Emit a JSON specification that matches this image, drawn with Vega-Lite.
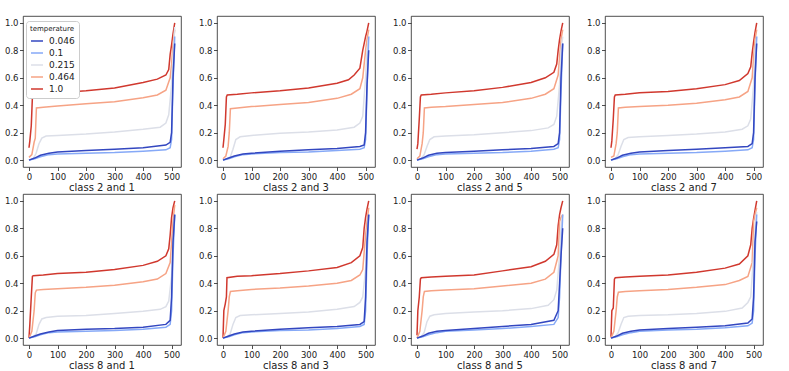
{
"$schema":"https://vega.github.io/schema/vega-lite/v6.json",
"padding":{"left":4,"top":15,"right":5,"bottom":2},
"background":"white",
"data":{"values":[
{"p":"class 2 and 1","t":"1.0","x":0,"y":0.09},{"p":"class 2 and 1","t":"1.0","x":3,"y":0.14},{"p":"class 2 and 1","t":"1.0","x":8,"y":0.25},{"p":"class 2 and 1","t":"1.0","x":12,"y":0.46},{"p":"class 2 and 1","t":"1.0","x":15,"y":0.475},{"p":"class 2 and 1","t":"1.0","x":50,"y":0.48},{"p":"class 2 and 1","t":"1.0","x":100,"y":0.49},{"p":"class 2 and 1","t":"1.0","x":200,"y":0.505},{"p":"class 2 and 1","t":"1.0","x":300,"y":0.525},{"p":"class 2 and 1","t":"1.0","x":400,"y":0.565},{"p":"class 2 and 1","t":"1.0","x":450,"y":0.59},{"p":"class 2 and 1","t":"1.0","x":480,"y":0.62},{"p":"class 2 and 1","t":"1.0","x":490,"y":0.66},{"p":"class 2 and 1","t":"1.0","x":495,"y":0.77},{"p":"class 2 and 1","t":"1.0","x":500,"y":0.84},{"p":"class 2 and 1","t":"1.0","x":505,"y":0.92},{"p":"class 2 and 1","t":"1.0","x":511,"y":1.0},
{"p":"class 2 and 1","t":"0.464","x":0,"y":0.02},{"p":"class 2 and 1","t":"0.464","x":10,"y":0.04},{"p":"class 2 and 1","t":"0.464","x":18,"y":0.13},{"p":"class 2 and 1","t":"0.464","x":22,"y":0.16},{"p":"class 2 and 1","t":"0.464","x":26,"y":0.38},{"p":"class 2 and 1","t":"0.464","x":50,"y":0.385},{"p":"class 2 and 1","t":"0.464","x":100,"y":0.395},{"p":"class 2 and 1","t":"0.464","x":200,"y":0.41},{"p":"class 2 and 1","t":"0.464","x":300,"y":0.425},{"p":"class 2 and 1","t":"0.464","x":400,"y":0.455},{"p":"class 2 and 1","t":"0.464","x":450,"y":0.475},{"p":"class 2 and 1","t":"0.464","x":480,"y":0.51},{"p":"class 2 and 1","t":"0.464","x":495,"y":0.6},{"p":"class 2 and 1","t":"0.464","x":500,"y":0.7},{"p":"class 2 and 1","t":"0.464","x":505,"y":0.85},{"p":"class 2 and 1","t":"0.464","x":511,"y":0.95},
{"p":"class 2 and 1","t":"0.215","x":0,"y":0},{"p":"class 2 and 1","t":"0.215","x":15,"y":0.01},{"p":"class 2 and 1","t":"0.215","x":25,"y":0.05},{"p":"class 2 and 1","t":"0.215","x":35,"y":0.12},{"p":"class 2 and 1","t":"0.215","x":45,"y":0.16},{"p":"class 2 and 1","t":"0.215","x":60,"y":0.175},{"p":"class 2 and 1","t":"0.215","x":100,"y":0.18},{"p":"class 2 and 1","t":"0.215","x":200,"y":0.19},{"p":"class 2 and 1","t":"0.215","x":300,"y":0.205},{"p":"class 2 and 1","t":"0.215","x":400,"y":0.225},{"p":"class 2 and 1","t":"0.215","x":460,"y":0.24},{"p":"class 2 and 1","t":"0.215","x":480,"y":0.27},{"p":"class 2 and 1","t":"0.215","x":490,"y":0.33},{"p":"class 2 and 1","t":"0.215","x":500,"y":0.55},{"p":"class 2 and 1","t":"0.215","x":505,"y":0.75},{"p":"class 2 and 1","t":"0.215","x":511,"y":0.97},
{"p":"class 2 and 1","t":"0.1","x":0,"y":0},{"p":"class 2 and 1","t":"0.1","x":20,"y":0.01},{"p":"class 2 and 1","t":"0.1","x":40,"y":0.025},{"p":"class 2 and 1","t":"0.1","x":70,"y":0.04},{"p":"class 2 and 1","t":"0.1","x":100,"y":0.045},{"p":"class 2 and 1","t":"0.1","x":200,"y":0.05},{"p":"class 2 and 1","t":"0.1","x":300,"y":0.055},{"p":"class 2 and 1","t":"0.1","x":400,"y":0.065},{"p":"class 2 and 1","t":"0.1","x":480,"y":0.075},{"p":"class 2 and 1","t":"0.1","x":495,"y":0.09},{"p":"class 2 and 1","t":"0.1","x":500,"y":0.15},{"p":"class 2 and 1","t":"0.1","x":505,"y":0.55},{"p":"class 2 and 1","t":"0.1","x":511,"y":0.9},
{"p":"class 2 and 1","t":"0.046","x":0,"y":0},{"p":"class 2 and 1","t":"0.046","x":20,"y":0.015},{"p":"class 2 and 1","t":"0.046","x":40,"y":0.035},{"p":"class 2 and 1","t":"0.046","x":70,"y":0.05},{"p":"class 2 and 1","t":"0.046","x":100,"y":0.06},{"p":"class 2 and 1","t":"0.046","x":200,"y":0.07},{"p":"class 2 and 1","t":"0.046","x":300,"y":0.08},{"p":"class 2 and 1","t":"0.046","x":400,"y":0.09},{"p":"class 2 and 1","t":"0.046","x":480,"y":0.11},{"p":"class 2 and 1","t":"0.046","x":495,"y":0.13},{"p":"class 2 and 1","t":"0.046","x":500,"y":0.2},{"p":"class 2 and 1","t":"0.046","x":505,"y":0.6},{"p":"class 2 and 1","t":"0.046","x":511,"y":0.85},

{"p":"class 2 and 3","t":"1.0","x":0,"y":0.09},{"p":"class 2 and 3","t":"1.0","x":3,"y":0.15},{"p":"class 2 and 3","t":"1.0","x":8,"y":0.26},{"p":"class 2 and 3","t":"1.0","x":12,"y":0.46},{"p":"class 2 and 3","t":"1.0","x":15,"y":0.475},{"p":"class 2 and 3","t":"1.0","x":50,"y":0.48},{"p":"class 2 and 3","t":"1.0","x":100,"y":0.49},{"p":"class 2 and 3","t":"1.0","x":200,"y":0.505},{"p":"class 2 and 3","t":"1.0","x":300,"y":0.525},{"p":"class 2 and 3","t":"1.0","x":400,"y":0.56},{"p":"class 2 and 3","t":"1.0","x":440,"y":0.585},{"p":"class 2 and 3","t":"1.0","x":460,"y":0.62},{"p":"class 2 and 3","t":"1.0","x":480,"y":0.67},{"p":"class 2 and 3","t":"1.0","x":490,"y":0.8},{"p":"class 2 and 3","t":"1.0","x":500,"y":0.9},{"p":"class 2 and 3","t":"1.0","x":505,"y":0.94},{"p":"class 2 and 3","t":"1.0","x":511,"y":1.0},
{"p":"class 2 and 3","t":"0.464","x":0,"y":0.01},{"p":"class 2 and 3","t":"0.464","x":10,"y":0.03},{"p":"class 2 and 3","t":"0.464","x":18,"y":0.1},{"p":"class 2 and 3","t":"0.464","x":22,"y":0.2},{"p":"class 2 and 3","t":"0.464","x":26,"y":0.375},{"p":"class 2 and 3","t":"0.464","x":50,"y":0.38},{"p":"class 2 and 3","t":"0.464","x":100,"y":0.39},{"p":"class 2 and 3","t":"0.464","x":200,"y":0.405},{"p":"class 2 and 3","t":"0.464","x":300,"y":0.42},{"p":"class 2 and 3","t":"0.464","x":400,"y":0.45},{"p":"class 2 and 3","t":"0.464","x":450,"y":0.48},{"p":"class 2 and 3","t":"0.464","x":480,"y":0.52},{"p":"class 2 and 3","t":"0.464","x":490,"y":0.6},{"p":"class 2 and 3","t":"0.464","x":500,"y":0.8},{"p":"class 2 and 3","t":"0.464","x":505,"y":0.88},{"p":"class 2 and 3","t":"0.464","x":511,"y":0.95},
{"p":"class 2 and 3","t":"0.215","x":0,"y":0},{"p":"class 2 and 3","t":"0.215","x":15,"y":0.01},{"p":"class 2 and 3","t":"0.215","x":25,"y":0.02},{"p":"class 2 and 3","t":"0.215","x":35,"y":0.08},{"p":"class 2 and 3","t":"0.215","x":45,"y":0.15},{"p":"class 2 and 3","t":"0.215","x":60,"y":0.17},{"p":"class 2 and 3","t":"0.215","x":100,"y":0.18},{"p":"class 2 and 3","t":"0.215","x":200,"y":0.195},{"p":"class 2 and 3","t":"0.215","x":300,"y":0.205},{"p":"class 2 and 3","t":"0.215","x":400,"y":0.22},{"p":"class 2 and 3","t":"0.215","x":460,"y":0.24},{"p":"class 2 and 3","t":"0.215","x":480,"y":0.27},{"p":"class 2 and 3","t":"0.215","x":490,"y":0.32},{"p":"class 2 and 3","t":"0.215","x":500,"y":0.6},{"p":"class 2 and 3","t":"0.215","x":505,"y":0.8},{"p":"class 2 and 3","t":"0.215","x":511,"y":0.9},
{"p":"class 2 and 3","t":"0.1","x":0,"y":0},{"p":"class 2 and 3","t":"0.1","x":20,"y":0.01},{"p":"class 2 and 3","t":"0.1","x":40,"y":0.025},{"p":"class 2 and 3","t":"0.1","x":70,"y":0.04},{"p":"class 2 and 3","t":"0.1","x":100,"y":0.045},{"p":"class 2 and 3","t":"0.1","x":200,"y":0.055},{"p":"class 2 and 3","t":"0.1","x":300,"y":0.06},{"p":"class 2 and 3","t":"0.1","x":400,"y":0.07},{"p":"class 2 and 3","t":"0.1","x":480,"y":0.08},{"p":"class 2 and 3","t":"0.1","x":495,"y":0.09},{"p":"class 2 and 3","t":"0.1","x":500,"y":0.15},{"p":"class 2 and 3","t":"0.1","x":505,"y":0.5},{"p":"class 2 and 3","t":"0.1","x":511,"y":0.9},
{"p":"class 2 and 3","t":"0.046","x":0,"y":0},{"p":"class 2 and 3","t":"0.046","x":20,"y":0.015},{"p":"class 2 and 3","t":"0.046","x":40,"y":0.03},{"p":"class 2 and 3","t":"0.046","x":70,"y":0.045},{"p":"class 2 and 3","t":"0.046","x":100,"y":0.05},{"p":"class 2 and 3","t":"0.046","x":200,"y":0.065},{"p":"class 2 and 3","t":"0.046","x":300,"y":0.075},{"p":"class 2 and 3","t":"0.046","x":400,"y":0.085},{"p":"class 2 and 3","t":"0.046","x":480,"y":0.1},{"p":"class 2 and 3","t":"0.046","x":495,"y":0.11},{"p":"class 2 and 3","t":"0.046","x":500,"y":0.2},{"p":"class 2 and 3","t":"0.046","x":505,"y":0.55},{"p":"class 2 and 3","t":"0.046","x":511,"y":0.8},

{"p":"class 2 and 5","t":"1.0","x":0,"y":0.08},{"p":"class 2 and 5","t":"1.0","x":3,"y":0.12},{"p":"class 2 and 5","t":"1.0","x":8,"y":0.3},{"p":"class 2 and 5","t":"1.0","x":12,"y":0.46},{"p":"class 2 and 5","t":"1.0","x":15,"y":0.475},{"p":"class 2 and 5","t":"1.0","x":50,"y":0.48},{"p":"class 2 and 5","t":"1.0","x":100,"y":0.49},{"p":"class 2 and 5","t":"1.0","x":200,"y":0.505},{"p":"class 2 and 5","t":"1.0","x":300,"y":0.53},{"p":"class 2 and 5","t":"1.0","x":400,"y":0.565},{"p":"class 2 and 5","t":"1.0","x":450,"y":0.6},{"p":"class 2 and 5","t":"1.0","x":480,"y":0.64},{"p":"class 2 and 5","t":"1.0","x":490,"y":0.7},{"p":"class 2 and 5","t":"1.0","x":495,"y":0.8},{"p":"class 2 and 5","t":"1.0","x":500,"y":0.88},{"p":"class 2 and 5","t":"1.0","x":505,"y":0.94},{"p":"class 2 and 5","t":"1.0","x":511,"y":1.0},
{"p":"class 2 and 5","t":"0.464","x":0,"y":0.01},{"p":"class 2 and 5","t":"0.464","x":10,"y":0.03},{"p":"class 2 and 5","t":"0.464","x":18,"y":0.12},{"p":"class 2 and 5","t":"0.464","x":22,"y":0.2},{"p":"class 2 and 5","t":"0.464","x":26,"y":0.38},{"p":"class 2 and 5","t":"0.464","x":50,"y":0.385},{"p":"class 2 and 5","t":"0.464","x":100,"y":0.39},{"p":"class 2 and 5","t":"0.464","x":200,"y":0.405},{"p":"class 2 and 5","t":"0.464","x":300,"y":0.42},{"p":"class 2 and 5","t":"0.464","x":400,"y":0.45},{"p":"class 2 and 5","t":"0.464","x":450,"y":0.48},{"p":"class 2 and 5","t":"0.464","x":480,"y":0.52},{"p":"class 2 and 5","t":"0.464","x":495,"y":0.62},{"p":"class 2 and 5","t":"0.464","x":500,"y":0.75},{"p":"class 2 and 5","t":"0.464","x":505,"y":0.88},{"p":"class 2 and 5","t":"0.464","x":511,"y":0.95},
{"p":"class 2 and 5","t":"0.215","x":0,"y":0},{"p":"class 2 and 5","t":"0.215","x":15,"y":0.01},{"p":"class 2 and 5","t":"0.215","x":25,"y":0.04},{"p":"class 2 and 5","t":"0.215","x":35,"y":0.1},{"p":"class 2 and 5","t":"0.215","x":45,"y":0.15},{"p":"class 2 and 5","t":"0.215","x":60,"y":0.17},{"p":"class 2 and 5","t":"0.215","x":100,"y":0.175},{"p":"class 2 and 5","t":"0.215","x":200,"y":0.185},{"p":"class 2 and 5","t":"0.215","x":300,"y":0.2},{"p":"class 2 and 5","t":"0.215","x":400,"y":0.215},{"p":"class 2 and 5","t":"0.215","x":460,"y":0.235},{"p":"class 2 and 5","t":"0.215","x":480,"y":0.26},{"p":"class 2 and 5","t":"0.215","x":490,"y":0.32},{"p":"class 2 and 5","t":"0.215","x":500,"y":0.55},{"p":"class 2 and 5","t":"0.215","x":505,"y":0.8},{"p":"class 2 and 5","t":"0.215","x":511,"y":0.9},
{"p":"class 2 and 5","t":"0.1","x":0,"y":0},{"p":"class 2 and 5","t":"0.1","x":20,"y":0.01},{"p":"class 2 and 5","t":"0.1","x":40,"y":0.025},{"p":"class 2 and 5","t":"0.1","x":70,"y":0.04},{"p":"class 2 and 5","t":"0.1","x":100,"y":0.045},{"p":"class 2 and 5","t":"0.1","x":200,"y":0.05},{"p":"class 2 and 5","t":"0.1","x":300,"y":0.055},{"p":"class 2 and 5","t":"0.1","x":400,"y":0.065},{"p":"class 2 and 5","t":"0.1","x":480,"y":0.08},{"p":"class 2 and 5","t":"0.1","x":495,"y":0.09},{"p":"class 2 and 5","t":"0.1","x":500,"y":0.15},{"p":"class 2 and 5","t":"0.1","x":505,"y":0.5},{"p":"class 2 and 5","t":"0.1","x":511,"y":0.85},
{"p":"class 2 and 5","t":"0.046","x":0,"y":0},{"p":"class 2 and 5","t":"0.046","x":20,"y":0.015},{"p":"class 2 and 5","t":"0.046","x":40,"y":0.035},{"p":"class 2 and 5","t":"0.046","x":70,"y":0.05},{"p":"class 2 and 5","t":"0.046","x":100,"y":0.055},{"p":"class 2 and 5","t":"0.046","x":200,"y":0.065},{"p":"class 2 and 5","t":"0.046","x":300,"y":0.075},{"p":"class 2 and 5","t":"0.046","x":400,"y":0.085},{"p":"class 2 and 5","t":"0.046","x":480,"y":0.1},{"p":"class 2 and 5","t":"0.046","x":495,"y":0.12},{"p":"class 2 and 5","t":"0.046","x":500,"y":0.2},{"p":"class 2 and 5","t":"0.046","x":505,"y":0.6},{"p":"class 2 and 5","t":"0.046","x":511,"y":0.85},

{"p":"class 2 and 7","t":"1.0","x":0,"y":0.09},{"p":"class 2 and 7","t":"1.0","x":3,"y":0.14},{"p":"class 2 and 7","t":"1.0","x":8,"y":0.3},{"p":"class 2 and 7","t":"1.0","x":12,"y":0.46},{"p":"class 2 and 7","t":"1.0","x":15,"y":0.475},{"p":"class 2 and 7","t":"1.0","x":50,"y":0.48},{"p":"class 2 and 7","t":"1.0","x":100,"y":0.49},{"p":"class 2 and 7","t":"1.0","x":200,"y":0.5},{"p":"class 2 and 7","t":"1.0","x":300,"y":0.52},{"p":"class 2 and 7","t":"1.0","x":400,"y":0.55},{"p":"class 2 and 7","t":"1.0","x":450,"y":0.58},{"p":"class 2 and 7","t":"1.0","x":480,"y":0.63},{"p":"class 2 and 7","t":"1.0","x":490,"y":0.68},{"p":"class 2 and 7","t":"1.0","x":495,"y":0.78},{"p":"class 2 and 7","t":"1.0","x":500,"y":0.86},{"p":"class 2 and 7","t":"1.0","x":505,"y":0.93},{"p":"class 2 and 7","t":"1.0","x":511,"y":1.0},
{"p":"class 2 and 7","t":"0.464","x":0,"y":0.02},{"p":"class 2 and 7","t":"0.464","x":10,"y":0.03},{"p":"class 2 and 7","t":"0.464","x":18,"y":0.12},{"p":"class 2 and 7","t":"0.464","x":22,"y":0.2},{"p":"class 2 and 7","t":"0.464","x":26,"y":0.38},{"p":"class 2 and 7","t":"0.464","x":50,"y":0.385},{"p":"class 2 and 7","t":"0.464","x":100,"y":0.39},{"p":"class 2 and 7","t":"0.464","x":200,"y":0.4},{"p":"class 2 and 7","t":"0.464","x":300,"y":0.415},{"p":"class 2 and 7","t":"0.464","x":400,"y":0.44},{"p":"class 2 and 7","t":"0.464","x":450,"y":0.46},{"p":"class 2 and 7","t":"0.464","x":480,"y":0.5},{"p":"class 2 and 7","t":"0.464","x":495,"y":0.6},{"p":"class 2 and 7","t":"0.464","x":500,"y":0.75},{"p":"class 2 and 7","t":"0.464","x":505,"y":0.88},{"p":"class 2 and 7","t":"0.464","x":511,"y":0.95},
{"p":"class 2 and 7","t":"0.215","x":0,"y":0},{"p":"class 2 and 7","t":"0.215","x":15,"y":0.01},{"p":"class 2 and 7","t":"0.215","x":25,"y":0.04},{"p":"class 2 and 7","t":"0.215","x":35,"y":0.1},{"p":"class 2 and 7","t":"0.215","x":45,"y":0.15},{"p":"class 2 and 7","t":"0.215","x":60,"y":0.165},{"p":"class 2 and 7","t":"0.215","x":100,"y":0.17},{"p":"class 2 and 7","t":"0.215","x":200,"y":0.18},{"p":"class 2 and 7","t":"0.215","x":300,"y":0.19},{"p":"class 2 and 7","t":"0.215","x":400,"y":0.205},{"p":"class 2 and 7","t":"0.215","x":460,"y":0.225},{"p":"class 2 and 7","t":"0.215","x":480,"y":0.25},{"p":"class 2 and 7","t":"0.215","x":490,"y":0.3},{"p":"class 2 and 7","t":"0.215","x":500,"y":0.55},{"p":"class 2 and 7","t":"0.215","x":505,"y":0.8},{"p":"class 2 and 7","t":"0.215","x":511,"y":0.9},
{"p":"class 2 and 7","t":"0.1","x":0,"y":0},{"p":"class 2 and 7","t":"0.1","x":20,"y":0.01},{"p":"class 2 and 7","t":"0.1","x":40,"y":0.025},{"p":"class 2 and 7","t":"0.1","x":70,"y":0.04},{"p":"class 2 and 7","t":"0.1","x":100,"y":0.045},{"p":"class 2 and 7","t":"0.1","x":200,"y":0.05},{"p":"class 2 and 7","t":"0.1","x":300,"y":0.055},{"p":"class 2 and 7","t":"0.1","x":400,"y":0.065},{"p":"class 2 and 7","t":"0.1","x":480,"y":0.075},{"p":"class 2 and 7","t":"0.1","x":495,"y":0.09},{"p":"class 2 and 7","t":"0.1","x":500,"y":0.15},{"p":"class 2 and 7","t":"0.1","x":505,"y":0.55},{"p":"class 2 and 7","t":"0.1","x":511,"y":0.9},
{"p":"class 2 and 7","t":"0.046","x":0,"y":0},{"p":"class 2 and 7","t":"0.046","x":20,"y":0.015},{"p":"class 2 and 7","t":"0.046","x":40,"y":0.035},{"p":"class 2 and 7","t":"0.046","x":70,"y":0.05},{"p":"class 2 and 7","t":"0.046","x":100,"y":0.06},{"p":"class 2 and 7","t":"0.046","x":200,"y":0.07},{"p":"class 2 and 7","t":"0.046","x":300,"y":0.08},{"p":"class 2 and 7","t":"0.046","x":400,"y":0.09},{"p":"class 2 and 7","t":"0.046","x":480,"y":0.1},{"p":"class 2 and 7","t":"0.046","x":495,"y":0.12},{"p":"class 2 and 7","t":"0.046","x":500,"y":0.2},{"p":"class 2 and 7","t":"0.046","x":505,"y":0.6},{"p":"class 2 and 7","t":"0.046","x":511,"y":0.85},

{"p":"class 8 and 1","t":"1.0","x":0,"y":0},{"p":"class 8 and 1","t":"1.0","x":3,"y":0.1},{"p":"class 8 and 1","t":"1.0","x":8,"y":0.3},{"p":"class 8 and 1","t":"1.0","x":12,"y":0.45},{"p":"class 8 and 1","t":"1.0","x":15,"y":0.455},{"p":"class 8 and 1","t":"1.0","x":50,"y":0.46},{"p":"class 8 and 1","t":"1.0","x":100,"y":0.47},{"p":"class 8 and 1","t":"1.0","x":200,"y":0.48},{"p":"class 8 and 1","t":"1.0","x":300,"y":0.5},{"p":"class 8 and 1","t":"1.0","x":400,"y":0.53},{"p":"class 8 and 1","t":"1.0","x":450,"y":0.56},{"p":"class 8 and 1","t":"1.0","x":480,"y":0.6},{"p":"class 8 and 1","t":"1.0","x":490,"y":0.65},{"p":"class 8 and 1","t":"1.0","x":495,"y":0.75},{"p":"class 8 and 1","t":"1.0","x":500,"y":0.88},{"p":"class 8 and 1","t":"1.0","x":505,"y":0.95},{"p":"class 8 and 1","t":"1.0","x":511,"y":1.0},
{"p":"class 8 and 1","t":"0.464","x":0,"y":0},{"p":"class 8 and 1","t":"0.464","x":10,"y":0.05},{"p":"class 8 and 1","t":"0.464","x":18,"y":0.2},{"p":"class 8 and 1","t":"0.464","x":22,"y":0.33},{"p":"class 8 and 1","t":"0.464","x":26,"y":0.35},{"p":"class 8 and 1","t":"0.464","x":50,"y":0.355},{"p":"class 8 and 1","t":"0.464","x":100,"y":0.36},{"p":"class 8 and 1","t":"0.464","x":200,"y":0.37},{"p":"class 8 and 1","t":"0.464","x":300,"y":0.385},{"p":"class 8 and 1","t":"0.464","x":400,"y":0.41},{"p":"class 8 and 1","t":"0.464","x":450,"y":0.43},{"p":"class 8 and 1","t":"0.464","x":480,"y":0.47},{"p":"class 8 and 1","t":"0.464","x":495,"y":0.55},{"p":"class 8 and 1","t":"0.464","x":500,"y":0.7},{"p":"class 8 and 1","t":"0.464","x":505,"y":0.85},{"p":"class 8 and 1","t":"0.464","x":511,"y":0.97},
{"p":"class 8 and 1","t":"0.215","x":0,"y":0},{"p":"class 8 and 1","t":"0.215","x":15,"y":0.01},{"p":"class 8 and 1","t":"0.215","x":25,"y":0.03},{"p":"class 8 and 1","t":"0.215","x":35,"y":0.1},{"p":"class 8 and 1","t":"0.215","x":45,"y":0.14},{"p":"class 8 and 1","t":"0.215","x":60,"y":0.15},{"p":"class 8 and 1","t":"0.215","x":100,"y":0.16},{"p":"class 8 and 1","t":"0.215","x":200,"y":0.165},{"p":"class 8 and 1","t":"0.215","x":300,"y":0.18},{"p":"class 8 and 1","t":"0.215","x":400,"y":0.195},{"p":"class 8 and 1","t":"0.215","x":460,"y":0.21},{"p":"class 8 and 1","t":"0.215","x":480,"y":0.23},{"p":"class 8 and 1","t":"0.215","x":490,"y":0.27},{"p":"class 8 and 1","t":"0.215","x":500,"y":0.45},{"p":"class 8 and 1","t":"0.215","x":505,"y":0.7},{"p":"class 8 and 1","t":"0.215","x":511,"y":0.9},
{"p":"class 8 and 1","t":"0.1","x":0,"y":0},{"p":"class 8 and 1","t":"0.1","x":20,"y":0.01},{"p":"class 8 and 1","t":"0.1","x":40,"y":0.025},{"p":"class 8 and 1","t":"0.1","x":70,"y":0.04},{"p":"class 8 and 1","t":"0.1","x":100,"y":0.045},{"p":"class 8 and 1","t":"0.1","x":200,"y":0.05},{"p":"class 8 and 1","t":"0.1","x":300,"y":0.055},{"p":"class 8 and 1","t":"0.1","x":400,"y":0.065},{"p":"class 8 and 1","t":"0.1","x":480,"y":0.08},{"p":"class 8 and 1","t":"0.1","x":495,"y":0.1},{"p":"class 8 and 1","t":"0.1","x":500,"y":0.2},{"p":"class 8 and 1","t":"0.1","x":505,"y":0.6},{"p":"class 8 and 1","t":"0.1","x":511,"y":0.9},
{"p":"class 8 and 1","t":"0.046","x":0,"y":0},{"p":"class 8 and 1","t":"0.046","x":20,"y":0.015},{"p":"class 8 and 1","t":"0.046","x":40,"y":0.03},{"p":"class 8 and 1","t":"0.046","x":70,"y":0.045},{"p":"class 8 and 1","t":"0.046","x":100,"y":0.055},{"p":"class 8 and 1","t":"0.046","x":200,"y":0.065},{"p":"class 8 and 1","t":"0.046","x":300,"y":0.07},{"p":"class 8 and 1","t":"0.046","x":400,"y":0.08},{"p":"class 8 and 1","t":"0.046","x":480,"y":0.1},{"p":"class 8 and 1","t":"0.046","x":495,"y":0.13},{"p":"class 8 and 1","t":"0.046","x":500,"y":0.3},{"p":"class 8 and 1","t":"0.046","x":505,"y":0.7},{"p":"class 8 and 1","t":"0.046","x":511,"y":0.9},

{"p":"class 8 and 3","t":"1.0","x":0,"y":0},{"p":"class 8 and 3","t":"1.0","x":3,"y":0.2},{"p":"class 8 and 3","t":"1.0","x":8,"y":0.25},{"p":"class 8 and 3","t":"1.0","x":12,"y":0.3},{"p":"class 8 and 3","t":"1.0","x":14,"y":0.44},{"p":"class 8 and 3","t":"1.0","x":50,"y":0.45},{"p":"class 8 and 3","t":"1.0","x":100,"y":0.455},{"p":"class 8 and 3","t":"1.0","x":200,"y":0.47},{"p":"class 8 and 3","t":"1.0","x":300,"y":0.49},{"p":"class 8 and 3","t":"1.0","x":400,"y":0.515},{"p":"class 8 and 3","t":"1.0","x":450,"y":0.55},{"p":"class 8 and 3","t":"1.0","x":480,"y":0.6},{"p":"class 8 and 3","t":"1.0","x":490,"y":0.66},{"p":"class 8 and 3","t":"1.0","x":495,"y":0.8},{"p":"class 8 and 3","t":"1.0","x":500,"y":0.88},{"p":"class 8 and 3","t":"1.0","x":505,"y":0.94},{"p":"class 8 and 3","t":"1.0","x":511,"y":1.0},
{"p":"class 8 and 3","t":"0.464","x":0,"y":0},{"p":"class 8 and 3","t":"0.464","x":10,"y":0.05},{"p":"class 8 and 3","t":"0.464","x":18,"y":0.2},{"p":"class 8 and 3","t":"0.464","x":22,"y":0.3},{"p":"class 8 and 3","t":"0.464","x":26,"y":0.34},{"p":"class 8 and 3","t":"0.464","x":50,"y":0.345},{"p":"class 8 and 3","t":"0.464","x":100,"y":0.355},{"p":"class 8 and 3","t":"0.464","x":200,"y":0.365},{"p":"class 8 and 3","t":"0.464","x":300,"y":0.38},{"p":"class 8 and 3","t":"0.464","x":400,"y":0.4},{"p":"class 8 and 3","t":"0.464","x":450,"y":0.42},{"p":"class 8 and 3","t":"0.464","x":480,"y":0.46},{"p":"class 8 and 3","t":"0.464","x":490,"y":0.5},{"p":"class 8 and 3","t":"0.464","x":500,"y":0.75},{"p":"class 8 and 3","t":"0.464","x":505,"y":0.85},{"p":"class 8 and 3","t":"0.464","x":511,"y":0.95},
{"p":"class 8 and 3","t":"0.215","x":0,"y":0},{"p":"class 8 and 3","t":"0.215","x":15,"y":0.01},{"p":"class 8 and 3","t":"0.215","x":25,"y":0.03},{"p":"class 8 and 3","t":"0.215","x":35,"y":0.1},{"p":"class 8 and 3","t":"0.215","x":45,"y":0.15},{"p":"class 8 and 3","t":"0.215","x":60,"y":0.165},{"p":"class 8 and 3","t":"0.215","x":100,"y":0.17},{"p":"class 8 and 3","t":"0.215","x":200,"y":0.18},{"p":"class 8 and 3","t":"0.215","x":300,"y":0.19},{"p":"class 8 and 3","t":"0.215","x":400,"y":0.21},{"p":"class 8 and 3","t":"0.215","x":460,"y":0.23},{"p":"class 8 and 3","t":"0.215","x":480,"y":0.26},{"p":"class 8 and 3","t":"0.215","x":490,"y":0.3},{"p":"class 8 and 3","t":"0.215","x":500,"y":0.5},{"p":"class 8 and 3","t":"0.215","x":505,"y":0.75},{"p":"class 8 and 3","t":"0.215","x":511,"y":0.9},
{"p":"class 8 and 3","t":"0.1","x":0,"y":0},{"p":"class 8 and 3","t":"0.1","x":20,"y":0.01},{"p":"class 8 and 3","t":"0.1","x":40,"y":0.025},{"p":"class 8 and 3","t":"0.1","x":70,"y":0.04},{"p":"class 8 and 3","t":"0.1","x":100,"y":0.045},{"p":"class 8 and 3","t":"0.1","x":200,"y":0.055},{"p":"class 8 and 3","t":"0.1","x":300,"y":0.06},{"p":"class 8 and 3","t":"0.1","x":400,"y":0.07},{"p":"class 8 and 3","t":"0.1","x":480,"y":0.085},{"p":"class 8 and 3","t":"0.1","x":495,"y":0.1},{"p":"class 8 and 3","t":"0.1","x":500,"y":0.2},{"p":"class 8 and 3","t":"0.1","x":505,"y":0.6},{"p":"class 8 and 3","t":"0.1","x":511,"y":0.9},
{"p":"class 8 and 3","t":"0.046","x":0,"y":0},{"p":"class 8 and 3","t":"0.046","x":20,"y":0.015},{"p":"class 8 and 3","t":"0.046","x":40,"y":0.03},{"p":"class 8 and 3","t":"0.046","x":70,"y":0.045},{"p":"class 8 and 3","t":"0.046","x":100,"y":0.05},{"p":"class 8 and 3","t":"0.046","x":200,"y":0.065},{"p":"class 8 and 3","t":"0.046","x":300,"y":0.075},{"p":"class 8 and 3","t":"0.046","x":400,"y":0.085},{"p":"class 8 and 3","t":"0.046","x":480,"y":0.1},{"p":"class 8 and 3","t":"0.046","x":495,"y":0.12},{"p":"class 8 and 3","t":"0.046","x":500,"y":0.3},{"p":"class 8 and 3","t":"0.046","x":505,"y":0.7},{"p":"class 8 and 3","t":"0.046","x":511,"y":0.9},

{"p":"class 8 and 5","t":"1.0","x":0,"y":0.02},{"p":"class 8 and 5","t":"1.0","x":3,"y":0.2},{"p":"class 8 and 5","t":"1.0","x":8,"y":0.3},{"p":"class 8 and 5","t":"1.0","x":12,"y":0.43},{"p":"class 8 and 5","t":"1.0","x":15,"y":0.44},{"p":"class 8 and 5","t":"1.0","x":50,"y":0.445},{"p":"class 8 and 5","t":"1.0","x":100,"y":0.45},{"p":"class 8 and 5","t":"1.0","x":200,"y":0.46},{"p":"class 8 and 5","t":"1.0","x":300,"y":0.49},{"p":"class 8 and 5","t":"1.0","x":400,"y":0.52},{"p":"class 8 and 5","t":"1.0","x":450,"y":0.56},{"p":"class 8 and 5","t":"1.0","x":480,"y":0.61},{"p":"class 8 and 5","t":"1.0","x":490,"y":0.68},{"p":"class 8 and 5","t":"1.0","x":495,"y":0.82},{"p":"class 8 and 5","t":"1.0","x":500,"y":0.9},{"p":"class 8 and 5","t":"1.0","x":505,"y":0.95},{"p":"class 8 and 5","t":"1.0","x":511,"y":1.0},
{"p":"class 8 and 5","t":"0.464","x":0,"y":0},{"p":"class 8 and 5","t":"0.464","x":10,"y":0.05},{"p":"class 8 and 5","t":"0.464","x":18,"y":0.2},{"p":"class 8 and 5","t":"0.464","x":22,"y":0.3},{"p":"class 8 and 5","t":"0.464","x":26,"y":0.34},{"p":"class 8 and 5","t":"0.464","x":50,"y":0.345},{"p":"class 8 and 5","t":"0.464","x":100,"y":0.35},{"p":"class 8 and 5","t":"0.464","x":200,"y":0.36},{"p":"class 8 and 5","t":"0.464","x":300,"y":0.38},{"p":"class 8 and 5","t":"0.464","x":400,"y":0.4},{"p":"class 8 and 5","t":"0.464","x":450,"y":0.43},{"p":"class 8 and 5","t":"0.464","x":480,"y":0.48},{"p":"class 8 and 5","t":"0.464","x":495,"y":0.6},{"p":"class 8 and 5","t":"0.464","x":500,"y":0.85},{"p":"class 8 and 5","t":"0.464","x":505,"y":0.88},{"p":"class 8 and 5","t":"0.464","x":511,"y":0.9},
{"p":"class 8 and 5","t":"0.215","x":0,"y":0},{"p":"class 8 and 5","t":"0.215","x":15,"y":0.01},{"p":"class 8 and 5","t":"0.215","x":25,"y":0.04},{"p":"class 8 and 5","t":"0.215","x":35,"y":0.12},{"p":"class 8 and 5","t":"0.215","x":45,"y":0.16},{"p":"class 8 and 5","t":"0.215","x":60,"y":0.17},{"p":"class 8 and 5","t":"0.215","x":100,"y":0.18},{"p":"class 8 and 5","t":"0.215","x":200,"y":0.19},{"p":"class 8 and 5","t":"0.215","x":300,"y":0.2},{"p":"class 8 and 5","t":"0.215","x":400,"y":0.215},{"p":"class 8 and 5","t":"0.215","x":460,"y":0.24},{"p":"class 8 and 5","t":"0.215","x":480,"y":0.28},{"p":"class 8 and 5","t":"0.215","x":490,"y":0.35},{"p":"class 8 and 5","t":"0.215","x":500,"y":0.6},{"p":"class 8 and 5","t":"0.215","x":505,"y":0.8},{"p":"class 8 and 5","t":"0.215","x":511,"y":0.9},
{"p":"class 8 and 5","t":"0.1","x":0,"y":0},{"p":"class 8 and 5","t":"0.1","x":20,"y":0.01},{"p":"class 8 and 5","t":"0.1","x":40,"y":0.025},{"p":"class 8 and 5","t":"0.1","x":70,"y":0.04},{"p":"class 8 and 5","t":"0.1","x":100,"y":0.05},{"p":"class 8 and 5","t":"0.1","x":200,"y":0.06},{"p":"class 8 and 5","t":"0.1","x":300,"y":0.07},{"p":"class 8 and 5","t":"0.1","x":400,"y":0.085},{"p":"class 8 and 5","t":"0.1","x":480,"y":0.1},{"p":"class 8 and 5","t":"0.1","x":495,"y":0.15},{"p":"class 8 and 5","t":"0.1","x":500,"y":0.3},{"p":"class 8 and 5","t":"0.1","x":505,"y":0.6},{"p":"class 8 and 5","t":"0.1","x":511,"y":0.9},
{"p":"class 8 and 5","t":"0.046","x":0,"y":0},{"p":"class 8 and 5","t":"0.046","x":20,"y":0.015},{"p":"class 8 and 5","t":"0.046","x":40,"y":0.035},{"p":"class 8 and 5","t":"0.046","x":70,"y":0.05},{"p":"class 8 and 5","t":"0.046","x":100,"y":0.055},{"p":"class 8 and 5","t":"0.046","x":200,"y":0.07},{"p":"class 8 and 5","t":"0.046","x":300,"y":0.085},{"p":"class 8 and 5","t":"0.046","x":400,"y":0.1},{"p":"class 8 and 5","t":"0.046","x":480,"y":0.13},{"p":"class 8 and 5","t":"0.046","x":495,"y":0.2},{"p":"class 8 and 5","t":"0.046","x":500,"y":0.4},{"p":"class 8 and 5","t":"0.046","x":505,"y":0.6},{"p":"class 8 and 5","t":"0.046","x":511,"y":0.8},

{"p":"class 8 and 7","t":"1.0","x":0,"y":0.01},{"p":"class 8 and 7","t":"1.0","x":3,"y":0.2},{"p":"class 8 and 7","t":"1.0","x":8,"y":0.22},{"p":"class 8 and 7","t":"1.0","x":12,"y":0.43},{"p":"class 8 and 7","t":"1.0","x":15,"y":0.44},{"p":"class 8 and 7","t":"1.0","x":50,"y":0.445},{"p":"class 8 and 7","t":"1.0","x":100,"y":0.45},{"p":"class 8 and 7","t":"1.0","x":200,"y":0.46},{"p":"class 8 and 7","t":"1.0","x":300,"y":0.48},{"p":"class 8 and 7","t":"1.0","x":400,"y":0.51},{"p":"class 8 and 7","t":"1.0","x":450,"y":0.54},{"p":"class 8 and 7","t":"1.0","x":480,"y":0.6},{"p":"class 8 and 7","t":"1.0","x":490,"y":0.68},{"p":"class 8 and 7","t":"1.0","x":495,"y":0.8},{"p":"class 8 and 7","t":"1.0","x":500,"y":0.87},{"p":"class 8 and 7","t":"1.0","x":505,"y":0.93},{"p":"class 8 and 7","t":"1.0","x":511,"y":1.0},
{"p":"class 8 and 7","t":"0.464","x":0,"y":0},{"p":"class 8 and 7","t":"0.464","x":10,"y":0.05},{"p":"class 8 and 7","t":"0.464","x":18,"y":0.2},{"p":"class 8 and 7","t":"0.464","x":22,"y":0.3},{"p":"class 8 and 7","t":"0.464","x":26,"y":0.335},{"p":"class 8 and 7","t":"0.464","x":50,"y":0.34},{"p":"class 8 and 7","t":"0.464","x":100,"y":0.345},{"p":"class 8 and 7","t":"0.464","x":200,"y":0.355},{"p":"class 8 and 7","t":"0.464","x":300,"y":0.37},{"p":"class 8 and 7","t":"0.464","x":400,"y":0.39},{"p":"class 8 and 7","t":"0.464","x":450,"y":0.42},{"p":"class 8 and 7","t":"0.464","x":480,"y":0.45},{"p":"class 8 and 7","t":"0.464","x":495,"y":0.55},{"p":"class 8 and 7","t":"0.464","x":500,"y":0.85},{"p":"class 8 and 7","t":"0.464","x":505,"y":0.9},{"p":"class 8 and 7","t":"0.464","x":511,"y":0.95},
{"p":"class 8 and 7","t":"0.215","x":0,"y":0},{"p":"class 8 and 7","t":"0.215","x":15,"y":0.01},{"p":"class 8 and 7","t":"0.215","x":25,"y":0.04},{"p":"class 8 and 7","t":"0.215","x":35,"y":0.1},{"p":"class 8 and 7","t":"0.215","x":45,"y":0.15},{"p":"class 8 and 7","t":"0.215","x":60,"y":0.16},{"p":"class 8 and 7","t":"0.215","x":100,"y":0.165},{"p":"class 8 and 7","t":"0.215","x":200,"y":0.17},{"p":"class 8 and 7","t":"0.215","x":300,"y":0.18},{"p":"class 8 and 7","t":"0.215","x":400,"y":0.195},{"p":"class 8 and 7","t":"0.215","x":460,"y":0.22},{"p":"class 8 and 7","t":"0.215","x":480,"y":0.26},{"p":"class 8 and 7","t":"0.215","x":490,"y":0.3},{"p":"class 8 and 7","t":"0.215","x":500,"y":0.6},{"p":"class 8 and 7","t":"0.215","x":505,"y":0.8},{"p":"class 8 and 7","t":"0.215","x":511,"y":0.92},
{"p":"class 8 and 7","t":"0.1","x":0,"y":0},{"p":"class 8 and 7","t":"0.1","x":20,"y":0.01},{"p":"class 8 and 7","t":"0.1","x":40,"y":0.025},{"p":"class 8 and 7","t":"0.1","x":70,"y":0.04},{"p":"class 8 and 7","t":"0.1","x":100,"y":0.05},{"p":"class 8 and 7","t":"0.1","x":200,"y":0.06},{"p":"class 8 and 7","t":"0.1","x":300,"y":0.065},{"p":"class 8 and 7","t":"0.1","x":400,"y":0.075},{"p":"class 8 and 7","t":"0.1","x":480,"y":0.09},{"p":"class 8 and 7","t":"0.1","x":495,"y":0.11},{"p":"class 8 and 7","t":"0.1","x":500,"y":0.2},{"p":"class 8 and 7","t":"0.1","x":505,"y":0.6},{"p":"class 8 and 7","t":"0.1","x":511,"y":0.9},
{"p":"class 8 and 7","t":"0.046","x":0,"y":0},{"p":"class 8 and 7","t":"0.046","x":20,"y":0.015},{"p":"class 8 and 7","t":"0.046","x":40,"y":0.035},{"p":"class 8 and 7","t":"0.046","x":70,"y":0.05},{"p":"class 8 and 7","t":"0.046","x":100,"y":0.06},{"p":"class 8 and 7","t":"0.046","x":200,"y":0.07},{"p":"class 8 and 7","t":"0.046","x":300,"y":0.08},{"p":"class 8 and 7","t":"0.046","x":400,"y":0.09},{"p":"class 8 and 7","t":"0.046","x":480,"y":0.11},{"p":"class 8 and 7","t":"0.046","x":495,"y":0.14},{"p":"class 8 and 7","t":"0.046","x":500,"y":0.3},{"p":"class 8 and 7","t":"0.046","x":505,"y":0.7},{"p":"class 8 and 7","t":"0.046","x":511,"y":0.85}
]},
"facet":{"field":"p","type":"nominal","sort":["class 2 and 1","class 2 and 3","class 2 and 5","class 2 and 7","class 8 and 1","class 8 and 3","class 8 and 5","class 8 and 7"],"title":null,"header":{"labelOrient":"bottom","labelFont":"DejaVu Sans","labelFontSize":10,"labelColor":"#222222","labelPadding":2,"labelBaseline":"top"}},
"columns":4,
"spacing":{"column":16,"row":0},
"resolve":{"axis":{"x":"independent","y":"independent"}},
"spec":{
"width":158,"height":151,
"mark":{"type":"line","strokeWidth":1.5},
"encoding":{
"x":{"field":"x","type":"quantitative","scale":{"domain":[-21,533],"nice":false,"zero":false},"axis":{"values":[0,100,200,300,400,500],"title":null,"grid":false}},
"y":{"field":"y","type":"quantitative","scale":{"domain":[-0.05,1.05],"nice":false,"zero":false},"axis":{"values":[0,0.2,0.4,0.6,0.8,1.0],"format":".1f","title":null,"grid":false}},
"color":{"field":"t","type":"nominal","scale":{"domain":["0.046","0.1","0.215","0.464","1.0"],"range":["#3347c0","#86a9f7","#dcdfe8","#f6a385","#d0382e"]},"legend":{"title":"temperature","orient":"none","legendX":3,"legendY":5}}
}
},
"config":{
"view":{"stroke":"#222222","strokeWidth":0.8},
"axis":{"domain":false,"ticks":true,"tickColor":"#222222","tickSize":3.5,"tickWidth":0.8,"labelFont":"DejaVu Sans","labelFontSize":8.5,"labelColor":"#222222","labelPadding":1.5},
"legend":{"fillColor":"white","strokeColor":"#cccccc","cornerRadius":3,"padding":4,"titleFont":"DejaVu Sans","titleFontSize":7,"titleFontWeight":"normal","titleColor":"#222222","titlePadding":2,"labelFont":"DejaVu Sans","labelFontSize":9,"labelColor":"#222222","symbolType":"stroke","symbolStrokeWidth":1.5,"symbolSize":144,"rowPadding":0,"labelOffset":5}
}
}
